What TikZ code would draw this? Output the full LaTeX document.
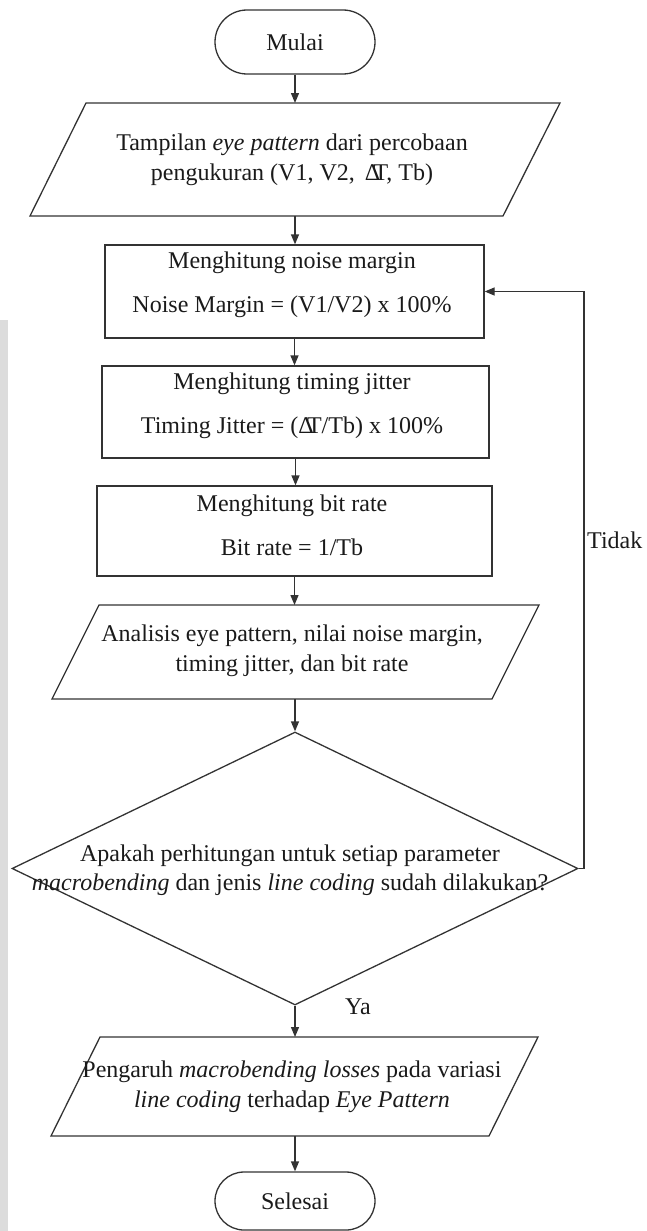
\documentclass[tikz,border=0pt]{standalone}
\usepackage{fontspec}
\setmainfont{Liberation Serif}
\usetikzlibrary{arrows.meta,shapes.geometric}
\definecolor{ln}{HTML}{333333}
\definecolor{strip}{HTML}{DCDCDC}
\definecolor{tx}{HTML}{1A1A1A}
\begin{document}
\begin{tikzpicture}[x=1pt,y=-1pt,
  every node/.style={font=\fontsize{24}{30}\selectfont, text=tx, inner sep=0pt},
  shapeline/.style={draw=ln, line width=1.3pt},
  boxnode/.style={shapeline, rectangle, minimum width=#1, minimum height=92pt},
  termnode/.style={shapeline, rectangle, rounded corners=#1, minimum width=160pt, minimum height=2*#1},
  twoline/.style={align=center, font=\fontsize{24}{30}\selectfont},
  boxtext/.style={align=center, font=\fontsize{24}{44}\selectfont},
  arr/.style={draw=ln, line width=1.3pt, -{Triangle[length=10pt,width=8pt]}}
]
\useasboundingbox (0,0) rectangle (646,1231);
\fill[strip] (0,320) rectangle (8,1231);

% start
\node[termnode=32pt] (start) at (295,42) {Mulai};

% parallelogram 1
\draw[shapeline] (30,216) -- (86,103) -- (560,103) -- (503,216) -- cycle;
\coordinate (p1n) at (295,103);
\coordinate (p1s) at (295,216);
\node[twoline] (p1t) at (292,160) {Tampilan \textit{eye pattern} dari percobaan\\pengukuran (V1, V2, \,Δ\kern-0.28emT, Tb)};

% box 1
\node[boxnode=379pt, minimum height=93pt] (b1) at (294.5,291.5) {};
\node[boxtext] (b1t) at (292,285) {Menghitung noise margin\\Noise Margin = (V1/V2) x 100\%};

% box 2
\node[boxnode=387pt] (b2) at (295.5,412) {};
\node[boxtext] (b2t) at (292,405.5) {Menghitung timing jitter\\Timing Jitter = (Δ\kern-0.28emT/Tb) x 100\%};

% box 3
\node[boxnode=395pt, minimum height=90pt] (b3) at (294.5,531) {};
\node[boxtext] (b3t) at (292,525) {Menghitung bit rate\\Bit rate = 1/Tb};

% parallelogram 2
\draw[shapeline] (52,699) -- (99,605) -- (539,605) -- (492,699) -- cycle;
\coordinate (p2n) at (295,605);
\coordinate (p2s) at (295,699);
\node[twoline] (p2t) at (292,651) {Analisis eye pattern, nilai noise margin,\\timing jitter, dan bit rate};

% decision
\node[shapeline, diamond, minimum width=566pt, minimum height=273pt] (dec) at (295,868.5) {};
\node[align=center, font=\fontsize{24}{29}\selectfont] (dect) at (290,870) {Apakah perhitungan untuk setiap parameter\\\textit{macrobending} dan jenis \textit{line coding} sudah dilakukan?};

% parallelogram 3
\draw[shapeline] (51,1136) -- (100,1037) -- (538,1037) -- (489,1136) -- cycle;
\coordinate (p3n) at (295,1037);
\coordinate (p3s) at (295,1136);
\node[twoline] (p3t) at (292,1087) {Pengaruh \textit{macrobending losses} pada variasi\\\textit{line coding} terhadap \textit{Eye Pattern}};

% end
\node[termnode=29pt] (stop) at (295,1201) {Selesai};

% labels
\node[anchor=west] (tidak) at (587,540) {Tidak};
\node (ya) at (358,1007) {Ya};

% connectors
\coordinate (loop) at (584,868.5);
\draw[arr] (start.south) -- (p1n);
\draw[arr] (p1s) -- (p1s |- b1.north);
\draw[arr] (b1.south) -- (b1.south |- b2.north);
\draw[arr] (b2.south) -- (b2.south |- b3.north);
\draw[arr] (b3.south) -- (b3.south |- p2n);
\draw[arr] (p2s) -- (dec.north);
\draw[arr] (dec.south) -- (p3n);
\draw[arr] (p3s) -- (stop.north);
\draw[arr] (dec.east) -- (loop) |- (b1.east);
\end{tikzpicture}
\end{document}
